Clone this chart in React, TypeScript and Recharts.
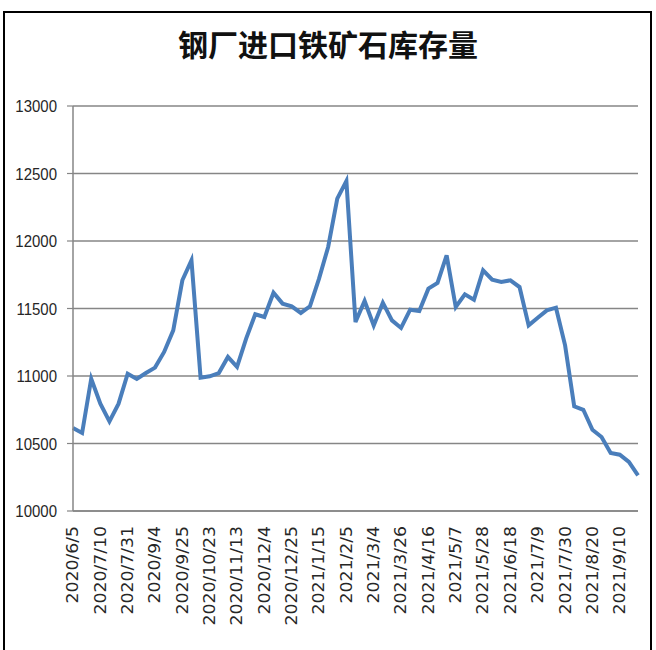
import React from 'react';
import { LineChart, Line, XAxis, YAxis, CartesianGrid } from 'recharts';

// 钢厂进口铁矿石库存量 (weekly, some weeks skipped)
const dates = [
  '2020/6/5', '2020/6/19', '2020/7/3', '2020/7/10', '2020/7/17', '2020/7/24',
  '2020/7/31', '2020/8/14', '2020/8/28', '2020/9/4', '2020/9/11', '2020/9/18',
  '2020/9/25', '2020/10/9', '2020/10/16', '2020/10/23', '2020/10/30', '2020/11/6',
  '2020/11/13', '2020/11/20', '2020/11/27', '2020/12/4', '2020/12/11', '2020/12/18',
  '2020/12/25', '2021/1/1', '2021/1/8', '2021/1/15', '2021/1/22', '2021/1/29',
  '2021/2/5', '2021/2/19', '2021/2/26', '2021/3/4', '2021/3/12', '2021/3/19',
  '2021/3/26', '2021/4/2', '2021/4/9', '2021/4/16', '2021/4/23', '2021/4/30',
  '2021/5/7', '2021/5/14', '2021/5/21', '2021/5/28', '2021/6/4', '2021/6/11',
  '2021/6/18', '2021/6/25', '2021/7/2', '2021/7/9', '2021/7/16', '2021/7/23',
  '2021/7/30', '2021/8/6', '2021/8/13', '2021/8/20', '2021/8/27', '2021/9/3',
  '2021/9/10', '2021/9/17', '2021/9/24',
];

const stock = [
  10615, 10578, 10980, 10795, 10664, 10795, 11017, 10978, 11022, 11062,
  11178, 11338, 11709, 11857, 10988, 10998, 11022, 11141, 11067, 11277,
  11457, 11437, 11617, 11536, 11516, 11467, 11516, 11721, 11956, 12314,
  12444, 11400, 11556, 11375, 11543, 11412, 11356, 11491, 11481, 11647,
  11689, 11894, 11511, 11605, 11565, 11783, 11714, 11696, 11709, 11659,
  11375, 11432, 11486, 11506, 11227, 10775, 10750, 10602, 10548, 10430,
  10417, 10363, 10264,
];

const yTicks = [10000, 10500, 11000, 11500, 12000, 12500, 13000];

const data = dates.map((d, i) => ({ date: d, i, stock: stock[i] }));
const edgeTicks = Array.from({ length: dates.length + 1 }, (_, k) => k);

const AXIS = '#868686';
const TEXT = '#262626';

const DateTick = (props: any) => {
  const { x, y, payload } = props;
  return (
    <text
      transform={`translate(${x},${y + 7}) rotate(-90) scale(1.15,1)`}
      dy="0.36em"
      textAnchor="end"
      fontSize={15}
      fontFamily="'DejaVu Sans', sans-serif"
      fill={TEXT}
    >
      {payload.value}
    </text>
  );
};

const ValueTick = (props: any) => {
  const { x, y, payload } = props;
  return (
    <text
      transform={`translate(${x},${y}) scale(1,1.15)`}
      dy="0.36em"
      textAnchor="end"
      fontSize={15}
      fontFamily="'Liberation Sans', Arial, sans-serif"
      fill={TEXT}
    >
      {payload.value}
    </text>
  );
};

const Empty = () => <g />;

export default function App() {
  return (
    <div style={{ position: 'absolute', left: 0, top: 0, width: 656, height: 650, background: '#fff', overflow: 'hidden' }}>
      <div
        style={{
          position: 'absolute', left: 3, top: 11, width: 649, height: 660,
          border: '2px solid #000', boxSizing: 'border-box',
        }}
      />
      <div
        style={{
          position: 'absolute', left: 0, top: 23, width: 656, textAlign: 'center',
          fontSize: 30, fontWeight: 'bold', fontFamily: "'Noto Sans CJK SC', sans-serif", color: '#111',
          lineHeight: '40px',
        }}
      >
        钢厂进口铁矿石库存量
      </div>
      <div style={{ position: 'absolute', left: 0, top: 0 }}>
        <LineChart width={656} height={650} data={data} margin={{ top: 106, right: 18, bottom: 0, left: 0 }}>
          <CartesianGrid vertical={false} stroke={AXIS} strokeWidth={1.5} />
          <XAxis
            xAxisId="edge"
            dataKey="i"
            type="number"
            domain={[0, dates.length]}
            ticks={edgeTicks}
            interval={0}
            height={0}
            axisLine={false}
            tick={<Empty />}
            tickSize={5}
            tickLine={{ stroke: AXIS, strokeWidth: 1.2 }}
            allowDataOverflow
          />
          <XAxis
            xAxisId="cat"
            dataKey="date"
            interval={2}
            height={139}
            tickLine={false}
            axisLine={{ stroke: AXIS, strokeWidth: 1.5 }}
            tick={<DateTick />}
          />
          <YAxis
            width={73}
            domain={[10000, 13000]}
            ticks={yTicks}
            interval={0}
            tickSize={6}
            tickMargin={10}
            axisLine={{ stroke: AXIS, strokeWidth: 1.5 }}
            tickLine={{ stroke: AXIS, strokeWidth: 1.2 }}
            tick={<ValueTick />}
          />
          <Line
            xAxisId="cat"
            dataKey="stock"
            type="linear"
            stroke="#4A7EBB"
            strokeWidth={4}
            dot={false}
            isAnimationActive={false}
          />
        </LineChart>
      </div>
    </div>
  );
}
